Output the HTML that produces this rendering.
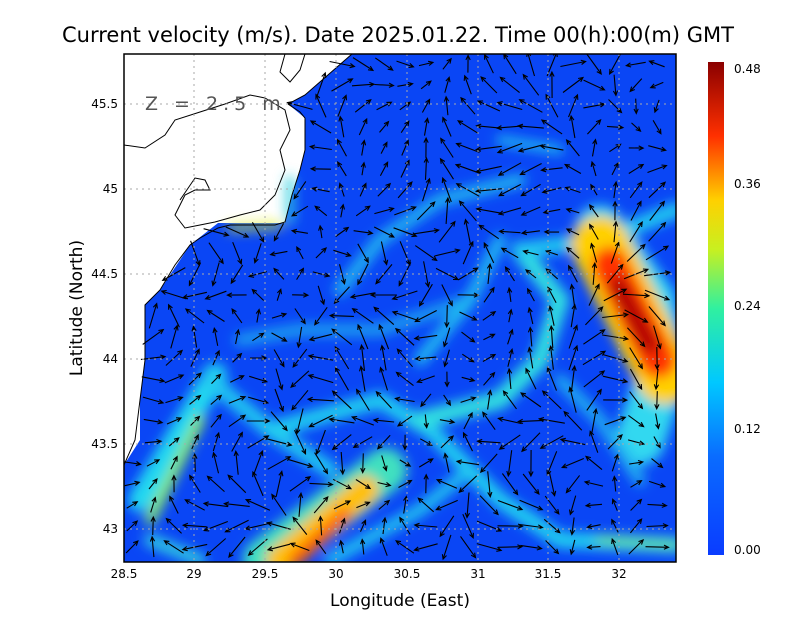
<!DOCTYPE html>
<html><head><meta charset="utf-8"><style>
body{margin:0;background:#fff;width:800px;height:618px;overflow:hidden}
text{font-family:"DejaVu Sans","Liberation Sans",sans-serif}
</style></head><body>
<svg id="s" width="800" height="618" viewBox="0 0 800 618" xmlns="http://www.w3.org/2000/svg">
<defs>
<clipPath id="c"><rect x="124" y="54" width="552" height="508"/></clipPath>
<filter id="b" x="-50%" y="-50%" width="200%" height="200%"><feGaussianBlur stdDeviation="6"/></filter>
<linearGradient id="cb" x1="0" y1="1" x2="0" y2="0">
<stop offset="0" stop-color="#0a3cff"/><stop offset="0.2" stop-color="#0a6cff"/>
<stop offset="0.35" stop-color="#00c8ff"/><stop offset="0.5" stop-color="#30f0a0"/>
<stop offset="0.62" stop-color="#c8f020"/><stop offset="0.72" stop-color="#ffd000"/>
<stop offset="0.85" stop-color="#ff3000"/><stop offset="1" stop-color="#8a0000"/>
</linearGradient>
</defs>
<text x="398" y="42" font-size="21" text-anchor="middle">Current velocity (m/s). Date 2025.01.22. Time 00(h):00(m) GMT</text>
<g clip-path="url(#c)">
<polygon fill="#0a46f5" points="352,54 676,54 676,562 124,562 124,465 140,440 140,400 145,360 145,305 160,290 190,245 218,223 285,223 292,195 300,170 305,150 305,118 288,104 305,95"/>
<g filter="url(#b)" fill="none" stroke-linecap="round">
<path d="M140,500 L215,375" stroke="#20d8f0" stroke-width="24"/>
<path d="M150,520 L200,420" stroke="#90f050" stroke-width="10"/>
<path d="M210,380 L270,430 L330,470" stroke="#20c8f0" stroke-width="16"/>
<path d="M270,430 L380,400 L430,430 L500,500 L560,540 L676,545" stroke="#20d0f0" stroke-width="16"/>
<path d="M520,250 L560,300 L540,360 L500,400 L420,420" stroke="#30e0e0" stroke-width="18"/>
<path d="M520,250 L600,240 L676,210" stroke="#20c8f0" stroke-width="16"/>
<path d="M600,230 L650,300 L660,380 L640,440" stroke="#30d8f0" stroke-width="50"/>
<path d="M600,245 L665,375" stroke="#ffd000" stroke-width="58"/>
<path d="M610,265 L658,360" stroke="#ff3000" stroke-width="36"/>
<path d="M618,285 L650,345" stroke="#b00000" stroke-width="18"/>
<path d="M265,560 L385,470" stroke="#40e0c0" stroke-width="44"/>
<path d="M280,560 L365,490" stroke="#ffc000" stroke-width="28"/>
<path d="M295,560 L345,515" stroke="#ff6000" stroke-width="14"/>
<path d="M330,560 L420,510 L470,470" stroke="#20c8f0" stroke-width="12"/>
<path d="M340,290 L380,240 L440,200 L520,180" stroke="#20b8f0" stroke-width="12"/>
<path d="M240,340 L300,330 L380,330 L470,300" stroke="#1aa0f0" stroke-width="12"/>
<path d="M420,360 L470,300 L500,240" stroke="#20c0f0" stroke-width="12"/>
<path d="M230,228 L280,225" stroke="#e0f020" stroke-width="6"/>
<path d="M290,180 L290,220" stroke="#30d0e0" stroke-width="8"/>
<path d="M500,140 L560,150" stroke="#20c8f0" stroke-width="8"/>
<path d="M560,380 L600,420 L640,480" stroke="#20b0f0" stroke-width="12"/>
<path d="M150,540 L200,560" stroke="#30d0e0" stroke-width="12"/>
<path d="M600,540 L676,545" stroke="#60e0a0" stroke-width="10"/>
</g>
<g id="arr" stroke="#000" stroke-width="1.1" fill="none"></g>
<path fill="none" stroke="#000" stroke-width="1" d="M352,54 L305,95 L288,104 L300,112 L305,118 L305,150 L300,170 L292,195 L285,222 L275,225 L230,225 L218,228 L200,238 L190,245 L175,265 L160,290 L145,305 L145,360 L140,400 L135,440 L124,465"/>
<path fill="none" stroke="#000" stroke-width="1" d="M124,145 L145,148 L165,135 L175,120 L200,112 L225,104 L250,95 L265,98 L285,110 L290,130 L280,150 L285,170 L275,195 L260,210 L240,215 L215,222 L200,225 L185,228 L175,215 L185,195 L195,190 L210,190 L205,180 L195,178 L180,200 M305,54 L300,70 L290,82 L280,72 L285,54"/>
<g stroke="#aaa" stroke-width="1" stroke-dasharray="2,4">
<line x1="194" y1="54" x2="194" y2="562"/><line x1="265" y1="54" x2="265" y2="562"/><line x1="336" y1="54" x2="336" y2="562"/><line x1="407" y1="54" x2="407" y2="562"/><line x1="478" y1="54" x2="478" y2="562"/><line x1="548" y1="54" x2="548" y2="562"/><line x1="619" y1="54" x2="619" y2="562"/>
<line x1="124" y1="104" x2="676" y2="104"/><line x1="124" y1="189" x2="676" y2="189"/><line x1="124" y1="274" x2="676" y2="274"/><line x1="124" y1="359" x2="676" y2="359"/><line x1="124" y1="444" x2="676" y2="444"/><line x1="124" y1="529" x2="676" y2="529"/>
</g>
<text x="145" y="110" font-size="19" fill="#555" letter-spacing="5">Z = 2.5 m</text>
</g>
<rect x="124" y="54" width="552" height="508" fill="none" stroke="#000" stroke-width="1.5"/>
<g font-size="12" text-anchor="middle">
<text x="124" y="578">28.5</text><text x="194" y="578">29</text><text x="265" y="578">29.5</text><text x="336" y="578">30</text><text x="407" y="578">30.5</text><text x="478" y="578">31</text><text x="548" y="578">31.5</text><text x="619" y="578">32</text>
</g>
<g font-size="12" text-anchor="end">
<text x="118" y="108">45.5</text><text x="118" y="193">45</text><text x="118" y="278">44.5</text><text x="118" y="363">44</text><text x="118" y="448">43.5</text><text x="118" y="533">43</text>
</g>
<text x="400" y="606" font-size="17" text-anchor="middle">Longitude (East)</text>
<text transform="translate(82,308) rotate(-90)" font-size="17" text-anchor="middle">Latitude (North)</text>
<rect x="708" y="62" width="16" height="493" fill="url(#cb)"/>
<g font-size="12"><text x="734" y="73">0.48</text><text x="734" y="188">0.36</text><text x="734" y="310">0.24</text><text x="734" y="433">0.12</text><text x="734" y="554">0.00</text></g>
</svg>
<script>
var g=document.getElementById('arr'),h='';
function inSea(x,y){var p=[[352,54],[676,54],[676,562],[124,562],[124,465],[140,440],[140,400],[145,360],[145,305],[160,290],[190,245],[218,223],[285,223],[292,195],[300,170],[305,150],[305,118],[288,104],[305,95]],c=false;
for(var i=0,j=p.length-1;i<p.length;j=i++){var a=p[i],b=p[j];if((a[1]>y)!=(b[1]>y)&&x<(b[0]-a[0])*(y-a[1])/(b[1]-a[1])+a[0])c=!c;}return c;}
for(var y=64;y<562;y+=21)for(var x=132;x<676;x+=21){if(!inSea(x,y))continue;
var ang=Math.sin(x*0.021)*2.2+Math.cos(y*0.017)*2.0+Math.sin((x+y)*0.011)*1.5-1;
var L=12+14*Math.abs(Math.sin(x*0.013+y*0.009));
var dx=Math.cos(ang)*L,dy=Math.sin(ang)*L;
var x1=x-dx/2,y1=y-dy/2,x2=x+dx/2,y2=y+dy/2;
var a1=ang+2.7,a2=ang-2.7;
h+='<path d="M'+x1.toFixed(1)+','+y1.toFixed(1)+'L'+x2.toFixed(1)+','+y2.toFixed(1)+'M'+(x2+5*Math.cos(a1)).toFixed(1)+','+(y2+5*Math.sin(a1)).toFixed(1)+'L'+x2.toFixed(1)+','+y2.toFixed(1)+'L'+(x2+5*Math.cos(a2)).toFixed(1)+','+(y2+5*Math.sin(a2)).toFixed(1)+'"/>';}
g.innerHTML=h;
</script>
</body></html>
